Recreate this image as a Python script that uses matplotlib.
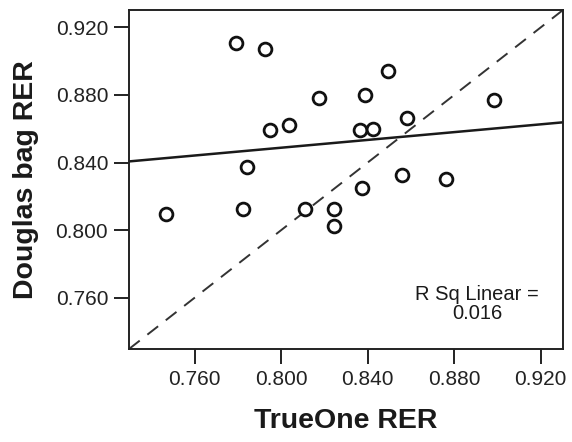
import numpy as np
import matplotlib.pyplot as plt

plt.rcParams['font.family'] = ['Liberation Sans', 'DejaVu Sans']

# TrueOne vs Douglas bag RER
trueone = [0.7466, 0.7793, 0.7925, 0.7947, 0.8035, 0.7844, 0.7825, 0.8175,
           0.8112, 0.8244, 0.8244, 0.8374, 0.8365, 0.8425, 0.8389, 0.8494,
           0.8582, 0.8560, 0.8764, 0.8986]
douglas = [0.8096, 0.9107, 0.9070, 0.8590, 0.8625, 0.8372, 0.8126, 0.8783,
           0.8126, 0.8126, 0.8023, 0.8248, 0.8590, 0.8600, 0.8799, 0.8941,
           0.8661, 0.8327, 0.8303, 0.8772]
ticks = [0.760, 0.800, 0.840, 0.880, 0.920]
lims = [0.7297, 0.9303]
rsq_text = 'R Sq Linear =\n0.016'

fig = plt.figure(figsize=(5.72, 4.42), dpi=100)
ax = fig.add_axes([0.2255, 0.2104, 0.7588, 0.767])

# line of identity
ax.axline((lims[0], lims[0]), slope=1, color='#333333', lw=1.4,
          dashes=(7, 5), zorder=1)

# linear fit
slope, icpt = np.polyfit(trueone, douglas, 1)
xs = np.array(lims)
ax.plot(xs, icpt + slope * xs, color='#1a1a1a', lw=1.8, zorder=2)

ax.plot(trueone, douglas, 'o', ms=9.2, mfc='white', mec='#111111', mew=2.0,
        zorder=3)

ax.text(0.8905, 0.7565, rsq_text, ha='center', va='center', fontsize=14.5,
        linespacing=1.0, color='#1a1a1a')

ax.set_xlim(lims)
ax.set_ylim(lims)
ax.set_xticks(ticks)
ax.set_yticks(ticks)
ax.set_xticklabels(['%.3f' % t for t in ticks])
ax.set_yticklabels(['%.3f' % t for t in ticks])
ax.tick_params(direction='out', length=11, width=1.4, labelsize=15,
               pad=4, colors='#222222')

for s in ax.spines.values():
    s.set_linewidth(1.4)
    s.set_color('#222222')

ax.set_xlabel('TrueOne RER', fontsize=20.5, fontweight='bold', labelpad=14,
              color='#1a1a1a')
ax.set_ylabel('Douglas bag RER', fontsize=20.5, fontweight='bold', labelpad=12,
              color='#1a1a1a')

fig.savefig('out.png', dpi=100)
